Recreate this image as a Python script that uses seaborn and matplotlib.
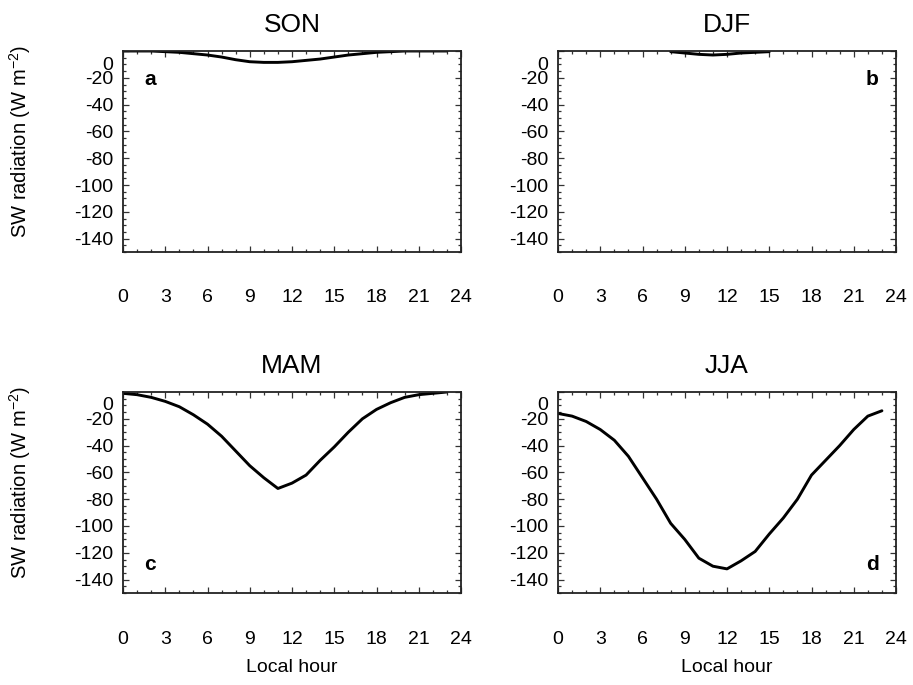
import numpy as np
import pandas as pd
import matplotlib
matplotlib.use("Agg")
import matplotlib.pyplot as plt
import matplotlib.transforms as mtransforms
from matplotlib.ticker import MultipleLocator
import seaborn as sns

# hourly SW radiation change (W m-2)
hours = list(range(24))
son = [0, 0, 0, -0.5, -1, -2, -3, -4.5, -6.5, -8, -8.5, -8.5,
       -8, -7, -6, -4.5, -3, -2, -1, -0.5, 0, 0, 0, 0]
djf_hours = [8, 9, 10, 11, 12, 13, 14, 15]
djf = [-0.5, -1.5, -2.5, -3, -2.5, -1.5, -1, -0.5]
mam = [-1, -2, -4, -7, -11, -17, -24, -33, -44, -55, -64, -72,
       -68, -62, -51, -41, -30, -20, -13, -8, -4, -2, -1, 0]
jja = [-16, -18, -22, -28, -36, -48, -64, -80, -98, -110, -124, -130,
       -132, -126, -119, -106, -94, -80, -62, -51, -40, -28, -18, -14]

seasons = ["SON", "DJF", "MAM", "JJA"]
letters = ["a", "b", "c", "d"]

frames = [
    pd.DataFrame({"hour": hours, "sw": son}),
    pd.DataFrame({"hour": djf_hours, "sw": djf}),
    pd.DataFrame({"hour": hours, "sw": mam}),
    pd.DataFrame({"hour": hours, "sw": jja}),
]

sns.set_theme(style="ticks")
plt.rcParams["font.family"] = ["Liberation Sans", "DejaVu Sans"]
plt.rcParams["axes.unicode_minus"] = False
for key in ["text.color", "axes.labelcolor", "xtick.color", "ytick.color"]:
    plt.rcParams[key] = "black"

fig = plt.figure(figsize=(9.13, 6.85), dpi=100)

W, H = 913, 685
boxes = [(123, 51), (558, 51), (123, 392), (558, 392)]  # left, top in px
aw, ah = 338, 201

for i, (df, name, let) in enumerate(zip(frames, seasons, letters)):
    l, t = boxes[i]
    ax = fig.add_axes([l / W, (H - t - ah) / H, aw / W, ah / H])
    sns.lineplot(data=df, x="hour", y="sw", ax=ax, color="black", lw=2.1)
    ax.set_xlim(0, 24)
    ax.set_ylim(-150, 0)
    ax.xaxis.set_major_locator(MultipleLocator(3))
    ax.xaxis.set_minor_locator(MultipleLocator(1))
    ax.yaxis.set_major_locator(MultipleLocator(20))
    ax.yaxis.set_minor_locator(MultipleLocator(5))
    ax.tick_params(which="both", direction="in", top=True, right=True,
                   width=0.9, color="#333333")
    ax.tick_params(which="major", length=4)
    ax.tick_params(which="minor", length=2)
    ax.tick_params(axis="x", which="major", pad=27, labelsize=14)
    ax.tick_params(axis="y", which="major", pad=7, labelsize=14)
    for sp in ax.spines.values():
        sp.set_linewidth(1.3)
        sp.set_color("#222222")

    # the "0" label sits a little below its tick in the original
    offset = mtransforms.ScaledTranslation(0, -12 / 100, fig.dpi_scale_trans)
    for lab in ax.get_yticklabels():
        if lab.get_text() == "0":
            lab.set_transform(lab.get_transform() + offset)

    ax.set_title(name, fontsize=19, pad=14)
    if i % 2 == 0:
        ax.set_ylabel(r"SW radiation (W m$^{\mathregular{-2}}$)", fontsize=14.5)
        ax.yaxis.set_label_coords(-0.265, 0.55)
    else:
        ax.set_ylabel("")
    if i >= 2:
        ax.set_xlabel("Local hour", fontsize=14, labelpad=8)
    else:
        ax.set_xlabel("")

    ypos = 0.86 if i < 2 else 0.14
    xpos = 0.08 if i % 2 == 0 else 0.93
    ax.text(xpos, ypos, let, transform=ax.transAxes,
            fontsize=15, fontweight="bold", ha="center", va="center")

fig.savefig("out.png", dpi=100)
